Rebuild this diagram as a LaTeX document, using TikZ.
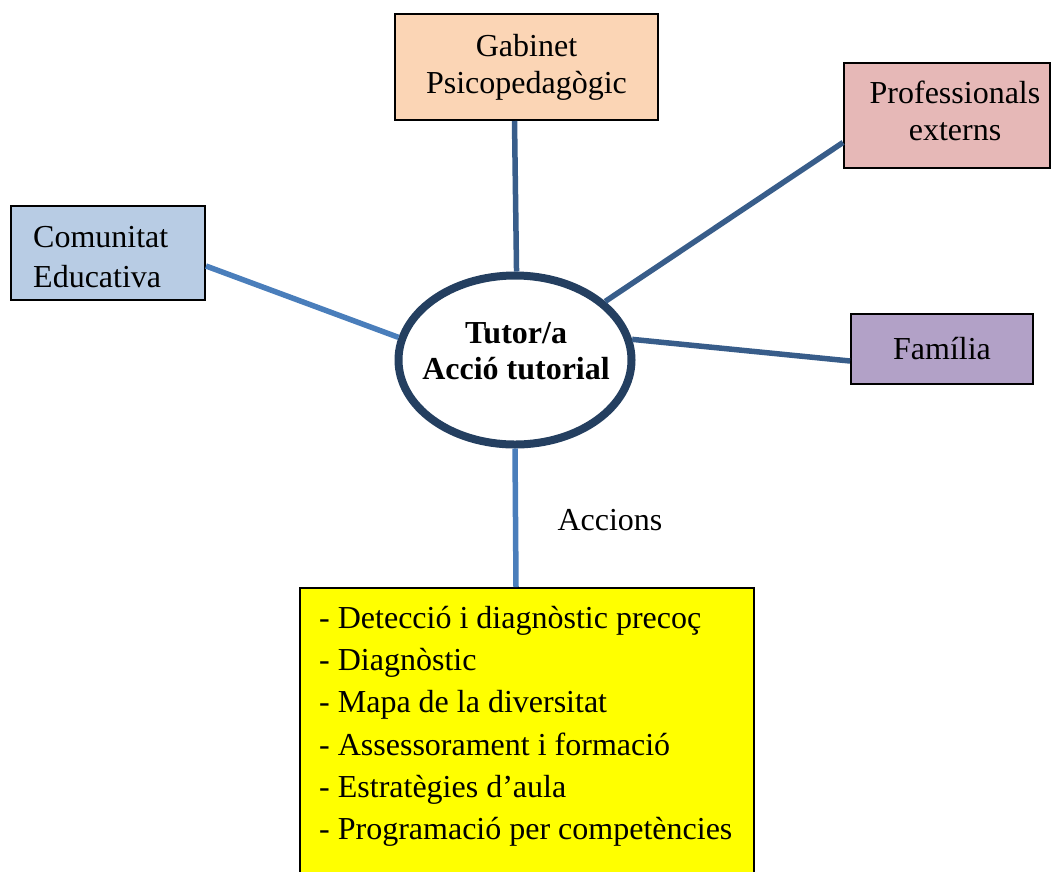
\documentclass[tikz,border=0pt]{standalone}
\usepackage{fontspec}
\setmainfont{Liberation Serif}
\usetikzlibrary{shapes.geometric}
\definecolor{peach}{HTML}{FBD5B5}
\definecolor{rose}{HTML}{E6B8B7}
\definecolor{paleblue}{HTML}{B8CCE4}
\definecolor{lilac}{HTML}{B2A1C7}
\definecolor{brightyellow}{HTML}{FFFF00}
\definecolor{navy}{HTML}{243F60}
\definecolor{darkline}{HTML}{385D8A}
\definecolor{lightline}{HTML}{4A7EBB}
\tikzset{
  box/.style={draw=black, line width=2pt, inner sep=0pt, font=\fontsize{32}{37}\selectfont, align=center},
  label text/.style={inner sep=0pt, font=\fontsize{32}{37}\selectfont},
  conn/.style={line width=5.5pt},
}
\begin{document}
\begin{tikzpicture}[x=1pt,y=-1pt]
\path[use as bounding box] (0,0) rectangle (1052,871);
% boxes
\node (gab) [box, fill=peach, minimum width=263pt, minimum height=106pt] at (526.5,67) {Gabinet\\Psicopedagògic};
\node (prof) [box, fill=rose, minimum width=206pt, minimum height=105pt] at (947,115.5) {};
\node (proftext) [label text, align=center] at (955,111) {Professionals\\externs};
\node (com) [box, fill=paleblue, minimum width=194pt, minimum height=94pt] at (108,253) {};
\node (comtext) [label text, align=left, anchor=west, font=\fontsize{32}{40}\selectfont] at (33,257) {Comunitat\\Educativa};
\node (fam) [box, fill=lilac, minimum width=182pt, minimum height=70pt] at (942,349) {Família};
\node (act) [box, fill=brightyellow, minimum width=454pt, minimum height=300pt, anchor=north west] at (299,587) {};
\node (acts) [anchor=north west, inner sep=0pt, align=left, font=\fontsize{32}{42.2}\selectfont] at (319,606) {- Detecció i diagnòstic precoç\\- Diagnòstic\\- Mapa de la diversitat\\- Assessorament i formació\\- Estratègies d’aula\\- Programació per competències};
% central ellipse
\node (tut) [ellipse, draw=navy, line width=8pt, fill=white, inner sep=0pt, minimum width=233pt, minimum height=169pt] at (515,360) {};
\node (tuttext) [align=center, inner sep=0pt, font=\bfseries\fontsize{32}{36}\selectfont] at (516,351) {Tutor/a\\Acció tutorial};
\node (acc) [label text] at (610,520) {Accions};
% connectors
\draw[conn, darkline] ([xshift=-12pt]gab.south) -- (tut.89);
\draw[conn, darkline] ([yshift=-27pt]prof.west) -- (tut.33);
\draw[conn, lightline] ([yshift=-13pt]com.east) -- (tut.169);
\draw[conn, darkline] ([yshift=-12pt]fam.west) -- (tut.10);
\draw[conn, lightline] (tut.south) -- ([xshift=-11pt]act.north);
\end{tikzpicture}
\end{document}
